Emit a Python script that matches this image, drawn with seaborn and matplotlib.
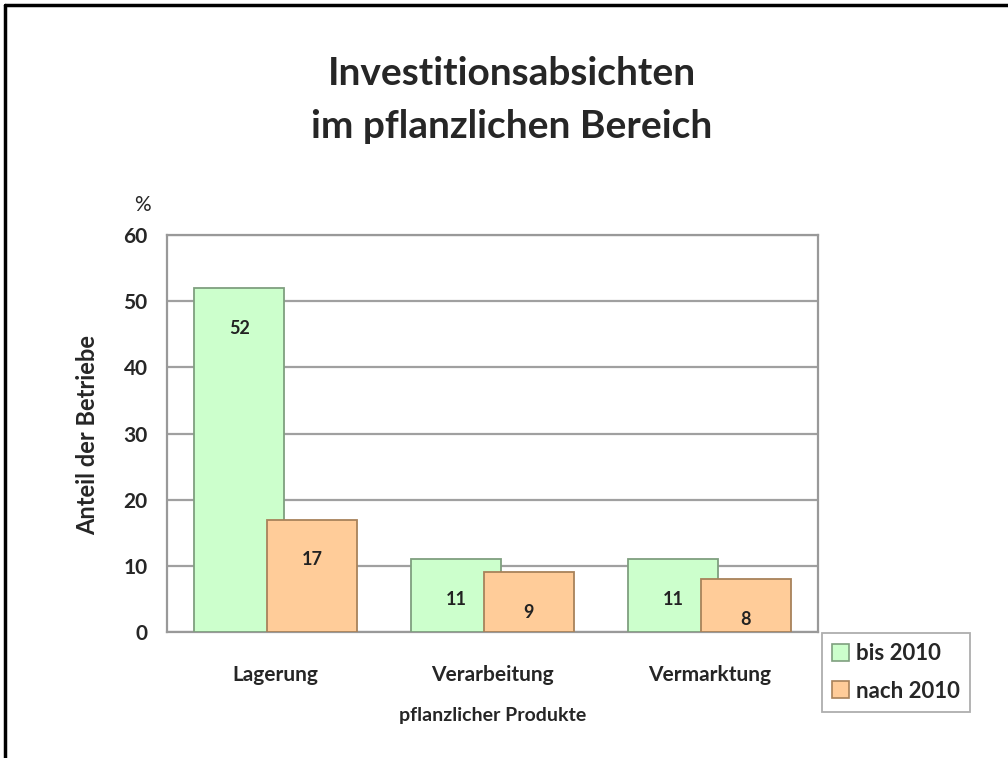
import seaborn as sns
import matplotlib.pyplot as plt
import pandas as pd
from matplotlib.lines import Line2D

# chart data
categories = ['Lagerung', 'Verarbeitung', 'Vermarktung']
series = ['bis 2010', 'nach 2010']
bis_2010 = [52, 11, 11]
nach_2010 = [17, 9, 8]
yticks = [0, 10, 20, 30, 40, 50, 60]

df = pd.DataFrame({'Bereich': categories * 2,
                   'Anteil': bis_2010 + nach_2010,
                   'Zeitraum': [series[0]] * 3 + [series[1]] * 3})

sns.set_style('white')
plt.rcParams['font.family'] = ['Lato', 'DejaVu Sans']

fig = plt.figure(figsize=(10.08, 7.58), dpi=100)
ax = fig.add_axes([0.1657, 0.1662, 0.6458, 0.5238])

sns.barplot(data=df, x='Bereich', y='Anteil', hue='Zeitraum', order=categories,
            hue_order=series, palette=['#ccffcc', '#ffcc99'], width=0.67,
            linewidth=1.3, saturation=1, ax=ax, zorder=3)

# Excel style overlapping bars
edges = ['#7f9f7f', '#a8825a']
for cont, ec in zip(ax.containers, edges):
    for p in cont:
        c = p.get_x() + p.get_width() / 2
        p.set_width(0.413)
        p.set_x(c - 0.413 / 2)
        p.set_edgecolor(ec)
    ax.bar_label(cont, padding=-35, fontsize=13, fontweight='bold', color='#222222')

ax.set_xlim(-0.5, 2.5)
ax.set_ylim(0, 60)
ax.set_yticks(yticks)
ax.set_yticklabels([str(v) for v in yticks], fontsize=15, fontweight='bold')
ax.tick_params(axis='y', direction='inout', length=12, width=1.5, color='#999999', pad=8)

ax.set_xticks([-0.5, 0.5, 1.5, 2.5])
ax.set_xticklabels([])
ax.tick_params(axis='x', which='major', direction='out', length=7, width=1.2, color='#999999')
ax.set_xticks([0, 1, 2], minor=True)
ax.set_xticklabels(categories, minor=True, fontsize=15, fontweight='bold')
ax.tick_params(axis='x', which='minor', length=0, pad=24)

ax.yaxis.grid(True, color='#a0a0a0', lw=1.6)
ax.set_axisbelow(True)
for s in ax.spines.values():
    s.set_color('#999999')
    s.set_linewidth(1.6)
    s.set_visible(True)

ax.set_ylabel('Anteil der Betriebe', fontsize=17, fontweight='bold')
ax.yaxis.set_label_coords(-0.105, 0.496)
ax.set_xlabel('pflanzlicher Produkte', fontsize=14, fontweight='bold')
ax.xaxis.set_label_coords(0.5, -0.19)

fig.text(142 / 1008, 1 - 205 / 758, '%', fontsize=15, ha='center', va='center')
fig.text(0.508, 0.868, 'Investitionsabsichten\nim pflanzlichen Bereich', ha='center',
         va='center', fontsize=28, fontweight='bold', linespacing=1.6)

leg = ax.legend(loc='upper left', bbox_to_anchor=(0.815, 0.165), bbox_transform=fig.transFigure,
                borderaxespad=0, frameon=True, fancybox=False, edgecolor='#999999',
                handlelength=0.8, handleheight=0.8, handletextpad=0.3, borderpad=0.45,
                labelspacing=0.75, prop={'size': 16, 'weight': 'bold'})
leg.get_frame().set_linewidth(1.3)
for h, ec in zip(leg.legend_handles, edges):
    h.set_edgecolor(ec)
    h.set_linewidth(1.2)

# frame lines left and top of the picture
fig.add_artist(Line2D([0.005, 0.005], [0, 0.993], transform=fig.transFigure, color='black', lw=2.5))
fig.add_artist(Line2D([0.005, 1], [0.993, 0.993], transform=fig.transFigure, color='black', lw=2.5))

fig.savefig('out.png', dpi=100)
